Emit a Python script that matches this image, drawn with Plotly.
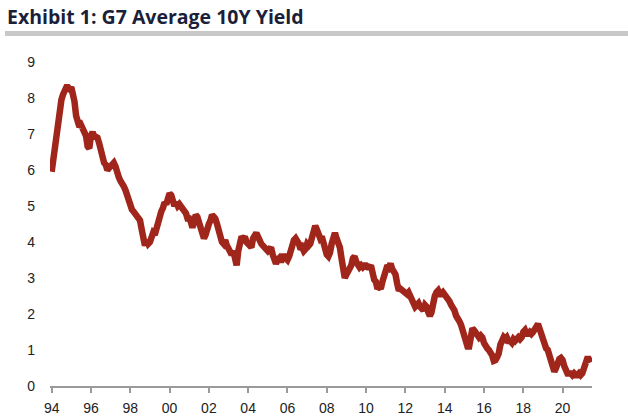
import pandas as pd
import plotly.graph_objects as go

# monthly G7 average 10y yield (%), Jan..Dec
y1994 = [5.95, 6.3, 6.75, 7.1, 7.4, 7.8, 7.95, 8.1, 8.25, 8.3, 8.3, 8.25]
y1995 = [8.3, 8.15, 7.9, 7.5, 7.25, 7.2, 7.25, 7.15, 7.05, 6.95, 6.65, 6.6]
y1996 = [6.95, 7.05, 6.95, 6.9, 6.9, 6.75, 6.5, 6.3, 6.2, 6.15, 6.0, 6.05]
y1997 = [6.1, 6.2, 6.2, 6.1, 5.9, 5.8, 5.7, 5.65, 5.55, 5.45, 5.3, 5.15]
y1998 = [4.95, 4.9, 4.85, 4.8, 4.75, 4.65, 4.6, 4.35, 4.05, 3.9, 4.05, 3.95]
y1999 = [4.0, 4.15, 4.25, 4.2, 4.35, 4.6, 4.8, 4.85, 4.95, 5.1, 5.05, 5.25]
y2000 = [5.35, 5.3, 5.15, 5.0, 5.1, 5.0, 5.05, 5.0, 4.95, 4.9, 4.8, 4.65]
y2001 = [4.65, 4.55, 4.4, 4.55, 4.75, 4.7, 4.55, 4.35, 4.15, 4.1, 4.2, 4.45]
y2002 = [4.5, 4.6, 4.75, 4.7, 4.65, 4.5, 4.3, 4.15, 4.0, 3.95, 4.05, 3.9]
y2003 = [3.8, 3.7, 3.65, 3.75, 3.5, 3.35, 3.75, 4.05, 4.15, 4.1, 4.15, 4.0]
y2004 = [3.95, 3.9, 3.85, 4.1, 4.25, 4.25, 4.15, 4.0, 3.95, 3.9, 3.85, 3.75]
y2005 = [3.75, 3.8, 3.85, 3.65, 3.5, 3.4, 3.5, 3.55, 3.45, 3.6, 3.65, 3.55]
y2006 = [3.5, 3.6, 3.75, 3.95, 4.05, 4.1, 4.05, 3.95, 3.8, 3.85, 3.75, 3.8]
y2007 = [3.95, 3.9, 3.95, 4.1, 4.25, 4.45, 4.35, 4.2, 4.1, 4.15, 3.95, 3.9]
y2008 = [3.65, 3.6, 3.7, 3.95, 4.15, 4.25, 4.1, 3.95, 3.85, 3.55, 3.25, 3.0]
y2009 = [3.1, 3.2, 3.2, 3.35, 3.55, 3.6, 3.45, 3.4, 3.3, 3.35, 3.3, 3.35]
y2010 = [3.35, 3.3, 3.3, 3.35, 3.1, 2.95, 2.9, 2.7, 2.75, 2.7, 2.9, 3.1]
y2011 = [3.25, 3.35, 3.3, 3.4, 3.25, 3.2, 3.1, 2.85, 2.65, 2.7, 2.65, 2.6]
y2012 = [2.6, 2.55, 2.6, 2.5, 2.35, 2.35, 2.2, 2.25, 2.3, 2.2, 2.15, 2.1]
y2013 = [2.25, 2.2, 2.05, 1.95, 2.05, 2.4, 2.5, 2.6, 2.65, 2.55, 2.55, 2.6]
y2014 = [2.55, 2.45, 2.4, 2.35, 2.25, 2.2, 2.1, 1.95, 1.9, 1.8, 1.7, 1.55]
y2015 = [1.3, 1.15, 1.1, 1.1, 1.45, 1.6, 1.55, 1.45, 1.4, 1.35, 1.4, 1.35]
y2016 = [1.2, 1.05, 1.05, 1.0, 0.95, 0.85, 0.7, 0.72, 0.8, 0.9, 1.15, 1.3]
y2017 = [1.35, 1.3, 1.35, 1.25, 1.25, 1.2, 1.3, 1.25, 1.3, 1.35, 1.3, 1.35]
y2018 = [1.5, 1.55, 1.45, 1.45, 1.5, 1.45, 1.5, 1.55, 1.65, 1.72, 1.55, 1.4]
y2019 = [1.3, 1.2, 1.05, 1.0, 0.85, 0.65, 0.55, 0.4, 0.5, 0.65, 0.75, 0.78]
y2020 = [0.72, 0.55, 0.4, 0.35, 0.35, 0.35, 0.3, 0.35, 0.3, 0.3, 0.35, 0.3]
y2021 = [0.35, 0.55, 0.7, 0.75, 0.75, 0.65]

yield_10y = (y1994 + y1995 + y1996 + y1997 + y1998 + y1999 + y2000 + y2001
             + y2002 + y2003 + y2004 + y2005 + y2006 + y2007 + y2008 + y2009
             + y2010 + y2011 + y2012 + y2013 + y2014 + y2015 + y2016 + y2017
             + y2018 + y2019 + y2020 + y2021)
dates = pd.date_range("1994-01-01", periods=len(yield_10y), freq="MS")

title = "Exhibit 1: G7 Average 10Y Yield"

# full-window figure (body margin removed below)
W, H = 628, 418
L, R, T, B = 50, 36, 62, 32
pw, ph = W - L - R, H - T - B


def px_x(x):
    return (x - L) / pw


def px_y(y):
    return (H - B - y) / ph


fig = go.Figure()
fig.add_trace(go.Scatter(
    x=dates, y=yield_10y, mode="lines",
    line=dict(color="#A0261C", width=6.5),
    showlegend=False, hoverinfo="x+y",
))

fig.update_layout(
    width=W, height=H,
    margin=dict(l=L, r=R, t=T, b=B, autoexpand=False),
    paper_bgcolor="white", plot_bgcolor="white",
    font=dict(family="Liberation Sans, Arial, sans-serif", size=14, color="#222222"),
    xaxis=dict(
        range=["1993-12-01", "2021-07-01"],
        tick0="1994-01-01", dtick="M24", tickformat="%y",
        showgrid=False, zeroline=False, automargin=False,
        showline=True, linecolor="#9A9A9A", linewidth=2,
        ticks="outside", ticklen=5, tickwidth=2, tickcolor="#9A9A9A",
        ticklabelstandoff=3,
    ),
    yaxis=dict(
        range=[0, 9], dtick=1, showgrid=False, zeroline=False,
        automargin=False, showline=False, ticks="", ticklabelstandoff=14,
    ),
    annotations=[dict(
        text="<b>" + title + "</b>", xref="paper", yref="paper",
        x=px_x(5), y=px_y(16), xanchor="left", yanchor="middle",
        showarrow=False,
        font=dict(family="Open Sans, sans-serif", size=19.5, color="#1B1F3A"),
    )],
    shapes=[dict(
        type="rect", xref="paper", yref="paper",
        x0=px_x(5), x1=px_x(W),
        y0=px_y(36), y1=px_y(31),
        fillcolor="#C8C8C8", line=dict(width=0), layer="above",
    )],
)

fig.write_html("out.html", config={"displayModeBar": False},
               post_script="document.body.style.margin = '0';")
